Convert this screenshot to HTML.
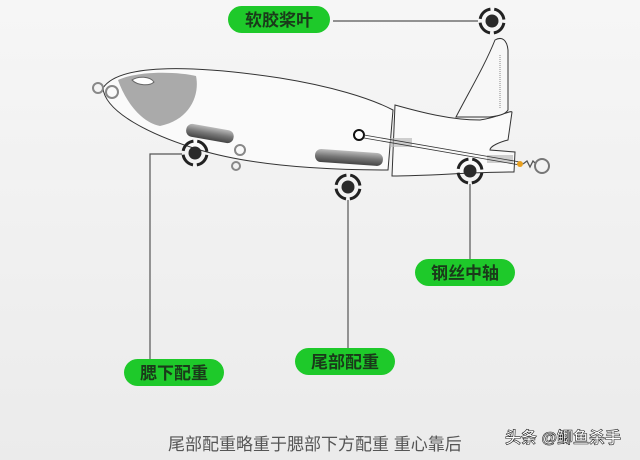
<!DOCTYPE html>
<html><head><meta charset="utf-8"><style>
html,body{margin:0;padding:0;background:#efefef;}
svg{display:block}
.t{font-family:"Liberation Sans","Noto Sans CJK SC",sans-serif;}
</style></head><body>
<svg width="640" height="460" viewBox="0 0 640 460" xmlns="http://www.w3.org/2000/svg">
<defs>
<linearGradient id="bg" x1="0" y1="0" x2="0" y2="1"><stop offset="0" stop-color="#f6f6f6"/><stop offset="1" stop-color="#ebebeb"/></linearGradient>
<linearGradient id="wt" x1="0" y1="0" x2="0" y2="1"><stop offset="0" stop-color="#bbb"/><stop offset="0.5" stop-color="#777"/><stop offset="1" stop-color="#444"/></linearGradient>
<g id="tg"><circle r="12" fill="none" stroke="#222" stroke-width="3" stroke-dasharray="15 3.85" transform="rotate(9)"/><circle r="6.5" fill="#2a2a2a"/></g>
</defs>
<rect width="640" height="460" fill="url(#bg)"/>
<!-- body -->
<path d="M103,88 C120,62 200,66 280,78 C330,86 370,98 393,110 L388,170 C340,170 260,168 200,150 C150,135 105,112 103,88 Z" fill="#fafafa" stroke="#333" stroke-width="1"/>
<path d="M118,80 C140,70 180,72 196,76 C200,95 190,120 160,126 C140,122 125,100 118,80 Z" fill="#aaa"/>
<path d="M132,80 C138,76 150,76 154,82 C150,86 138,86 132,80Z" fill="#fff" stroke="#666"/>
<!-- tail -->
<path d="M395,105 C420,112 450,120 480,120 C500,117 510,110 512,112 L508,140 C500,142 490,146 490,150 L515,152 L514,172 C470,172 430,176 392,176 Z" fill="#fafafa" stroke="#333" stroke-width="1"/>
<path d="M456,117 C470,90 485,65 495,40 C502,36 507,40 508,50 L508,110 C505,115 497,116 490,117 Z" fill="#f7f7f7" stroke="#333" stroke-width="1"/>
<line x1="500" y1="55" x2="500" y2="108" stroke="#888" stroke-dasharray="1 1"/>
<!-- weights -->
<rect x="186" y="127" width="48" height="13" rx="6" fill="url(#wt)" transform="rotate(10 210 133)"/>
<rect x="315" y="151" width="68" height="13" rx="6" fill="url(#wt)" transform="rotate(4 349 157)"/>
<rect x="390" y="138" width="22" height="9" fill="#bbb" opacity="0.7"/>
<rect x="487" y="155" width="26" height="8" fill="#bbb" opacity="0.7"/>
<!-- wire -->
<circle cx="359" cy="135" r="5" fill="#fff" stroke="#111" stroke-width="2"/>
<line x1="364" y1="135" x2="520" y2="162" stroke="#333" stroke-width="0.8"/>
<line x1="364" y1="138" x2="520" y2="165" stroke="#333" stroke-width="0.8"/>
<circle cx="520" cy="164" r="3" fill="#e8a020"/>
<path d="M523,164 l4,-3 l3,6 l3,-6 l3,3" fill="none" stroke="#555" stroke-width="1.3"/>
<circle cx="542" cy="166" r="7" fill="none" stroke="#777" stroke-width="2"/>
<!-- rings -->
<circle cx="98" cy="88" r="5" fill="none" stroke="#888" stroke-width="2"/>
<circle cx="112" cy="92" r="6" fill="none" stroke="#888" stroke-width="2"/>
<circle cx="240" cy="150" r="5" fill="none" stroke="#888" stroke-width="2"/>
<circle cx="236" cy="166" r="4" fill="none" stroke="#888" stroke-width="2"/>
<!-- connectors -->
<g stroke="#555" stroke-width="1.2" fill="none">
<line x1="333" y1="21" x2="478" y2="21"/>
<polyline points="182,154 150,154 150,360"/>
<line x1="348" y1="200" x2="348" y2="348"/>
<line x1="470" y1="184" x2="470" y2="259"/>
</g>
<use href="#tg" x="492" y="21"/>
<use href="#tg" x="195" y="153"/>
<use href="#tg" x="348" y="187"/>
<use href="#tg" x="470" y="171"/>
<!-- pills -->
<g fill="#1ec92a">
<rect x="228" y="6" width="102" height="27" rx="13.5"/>
<rect x="124" y="359" width="100" height="27" rx="13.5"/>
<rect x="295" y="348" width="100" height="27" rx="13.5"/>
<rect x="415" y="259" width="100" height="27" rx="13.5"/>
</g>
<g class="t" font-size="17" font-weight="bold" fill="#1a3a1a" text-anchor="middle">
<text x="279" y="26">软胶桨叶</text>
<text x="174" y="379">腮下配重</text>
<text x="345" y="368">尾部配重</text>
<text x="465" y="279">钢丝中轴</text>
</g>
<text class="t" x="168" y="450" font-size="17" fill="#555">尾部配重略重于腮部下方配重 重心靠后</text>
<text class="t" x="505" y="443" font-size="16" fill="#fff" stroke="#222" stroke-width="0.6" font-weight="bold">头条 @鲫鱼杀手</text>
</svg>
</body></html>
